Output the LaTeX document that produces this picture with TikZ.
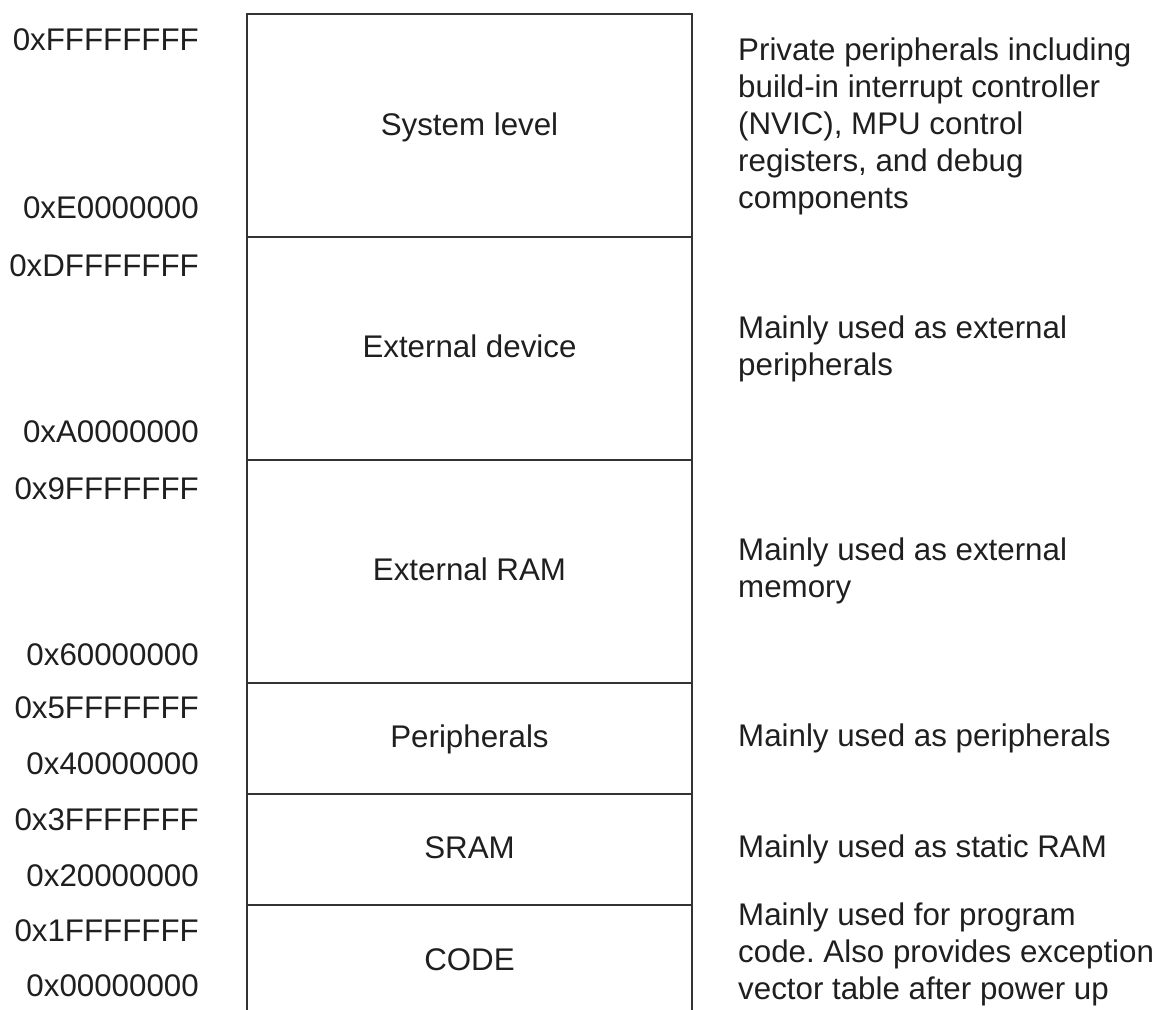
\documentclass[tikz,border=0pt]{standalone}
\usepackage{fontspec}
\setmainfont{Liberation Sans}
\frenchspacing
\begin{document}
\begin{tikzpicture}[x=1pt,y=-1pt,
  txt/.style={inner sep=0pt, font=\fontsize{31.3}{37}\selectfont\frenchspacing, text=black!88},
  addr/.style={txt, anchor=east},
  region/.style={txt, anchor=base},
  desc/.style={txt, anchor=west, align=left},
  frame/.style={draw=black!80, line width=1.8pt}]
\useasboundingbox (0,0) rectangle (1158,1009);
\fill[white] (0,0) rectangle (1158,1009);
% frame
\coordinate (bl) at (247,1030);
\coordinate (tl) at (247,14);
\coordinate (tr) at (692,14);
\coordinate (br) at (692,1030);
\draw[frame] (bl) -- (tl) -- (tr) -- (br);
\foreach \yy/\nm in {237/d1,460/d2,683/d3,794/d4,905/d5}{
  \coordinate (\nm l) at (247,\yy);
  \coordinate (\nm r) at (692,\yy);
  \draw[frame] (\nm l) -- (\nm r);
}
% region names
\node[region] (sys) at (469.5,135) {System level};
\node[region] (ext) at (469.5,357.5) {External device};
\node[region] (eram) at (469.5,580) {External RAM};
\node[region] (per) at (469.5,747.5) {Peripherals};
\node[region] (sram) at (469.5,858.5) {SRAM};
\node[region] (code) at (469.5,970) {CODE};
% addresses
\node[addr] (a1) at (199,40) {0xFFFFFFFF};
\node[addr] (a2) at (199,208) {0xE0000000};
\node[addr] (a3) at (199,266) {0xDFFFFFFF};
\node[addr] (a4) at (199,432) {0xA0000000};
\node[addr] (a5) at (199,489) {0x9FFFFFFF};
\node[addr] (a6) at (199,655) {0x60000000};
\node[addr] (a7) at (199,708) {0x5FFFFFFF};
\node[addr] (a8) at (199,764) {0x40000000};
\node[addr] (a9) at (199,820) {0x3FFFFFFF};
\node[addr] (a10) at (199,876) {0x20000000};
\node[addr] (a11) at (199,931) {0x1FFFFFFF};
\node[addr] (a12) at (199,986) {0x00000000};
% descriptions
\node[desc] (t1) at (738,126) {Private peripherals including\\build-in interrupt controller\\(NVIC), MPU control\\registers, and debug\\components};
\node[desc] (t2) at (738,348.5) {Mainly used as external\\peripherals};
\node[desc] (t3) at (738,571) {Mainly used as external\\memory};
\node[desc] (t4) at (738,738) {Mainly used as peripherals};
\node[desc] (t5) at (738,849) {Mainly used as static RAM};
\node[desc] (t6) at (738,954) {Mainly used for program\\code. Also provides exception\\vector table after power up};
\end{tikzpicture}
\end{document}
